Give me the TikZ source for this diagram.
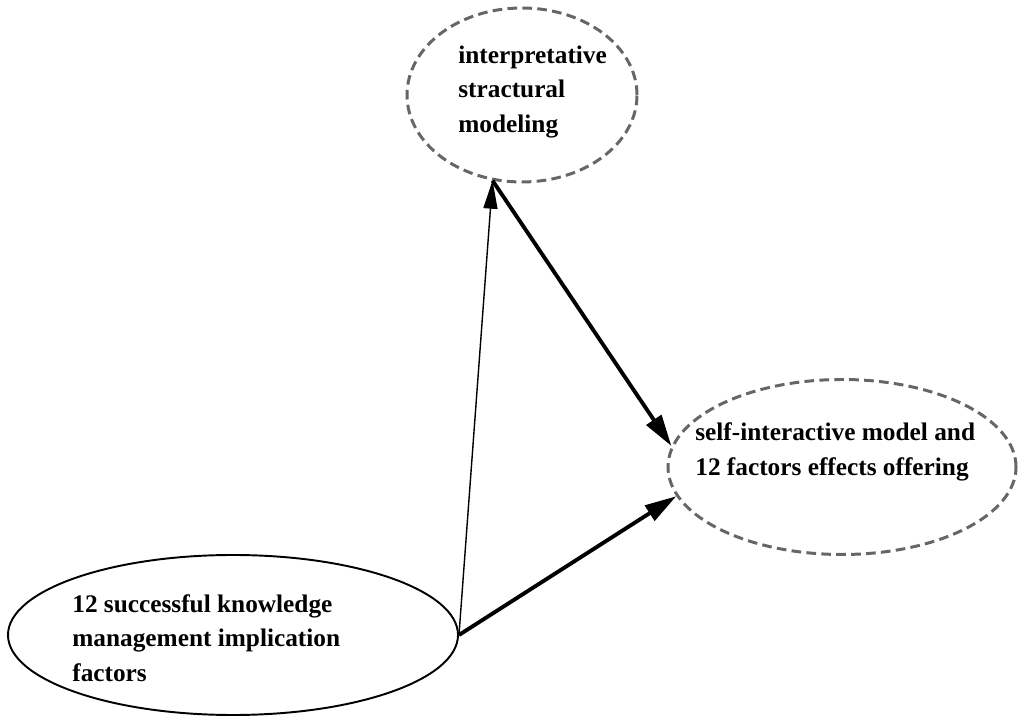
\documentclass[tikz,border=0pt]{standalone}
\usepackage{fontspec}
\setmainfont{Liberation Serif}
\usetikzlibrary{shapes.geometric,arrows.meta}
\tikzset{
	bubbletext/.style={align=left, inner sep=0pt, font=\bfseries\fontsize{14.4}{19.5}\selectfont},
	dashbubble/.style={ellipse, draw=black!60, line width=1.7pt, dash pattern=on 5.5pt off 3pt},
	plainbubble/.style={ellipse, draw=black, line width=1.1pt},
	thinarrow/.style={-{Triangle[length=16pt,width=8pt]}, line width=0.8pt},
	thickarrow/.style={-{Triangle[length=18pt,width=10pt]}, line width=2.2pt}
}

\begin{document}
\begin{tikzpicture}
			%%%%% START %%%%%
			
			\useasboundingbox (0, 0) rectangle (20.36, 14.44);
			
			\node[dashbubble, minimum width=4.6cm, minimum height=3.48cm] (ism) at (10.44, 12.54) {};
			\node[bubbletext, anchor=west] (ismtext) at (9.16, 12.6) {interpretative\\stractural\\modeling};
			
			\node[dashbubble, minimum width=6.96cm, minimum height=3.5cm] (effects) at (16.84, 5.1) {};
			\node[bubbletext, anchor=west] (effectstext) at (13.9, 5.4) {self-interactive model and\\12 factors effects offering};
			
			\node[plainbubble, minimum width=9cm, minimum height=3.2cm] (factors) at (4.66, 1.74) {};
			\node[bubbletext, anchor=west] (factorstext) at (1.44, 1.68) {12 successful knowledge\\management implication\\factors};
			
			\draw[thinarrow] (factors.east) -- (ism.251);
			\draw[thickarrow] (ism.251) -- (effects.173);
			\draw[thickarrow] (factors.east) -- (effects.190);
			
			%%%%% END %%%%%
\end{tikzpicture}
\end{document}
